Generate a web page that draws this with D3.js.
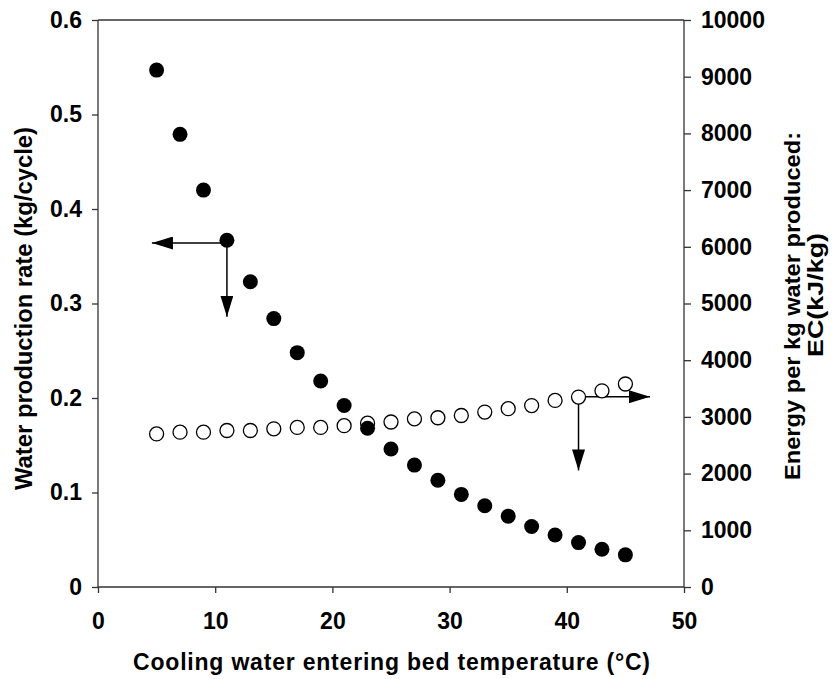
<!DOCTYPE html>
<html>
<head>
<meta charset="utf-8">
<script src="https://cdn.jsdelivr.net/npm/d3@7"></script>
<style>
  body { margin: 0; background: #fff; }
  svg text { font-family: "Liberation Sans", Arial, sans-serif; font-weight: bold; fill: #000; }
</style>
</head>
<body>
<svg width="836" height="679"></svg>
<script>
// cooling water temperature (°C)
const temps = [5, 7, 9, 11, 13, 15, 17, 19, 21, 23, 25, 27, 29, 31, 33, 35, 37, 39, 41, 43, 45];
// water production rate (kg/cycle), left axis - filled dots
const waterRate = [0.547, 0.479, 0.420, 0.367, 0.323, 0.284, 0.248, 0.218, 0.192, 0.168, 0.146,
                   0.129, 0.113, 0.098, 0.086, 0.075, 0.064, 0.055, 0.047, 0.040, 0.034];
// energy per kg water produced (kJ/kg), right axis - open dots
const energy = [2700, 2730, 2730, 2760, 2760, 2790, 2815, 2815, 2845, 2890, 2910,
                2965, 2985, 3025, 3085, 3145, 3200, 3290, 3350, 3460, 3580];

const xTicks = [0, 10, 20, 30, 40, 50];
const leftTicks = [0, 0.1, 0.2, 0.3, 0.4, 0.5, 0.6];
const rightTicks = [0, 1000, 2000, 3000, 4000, 5000, 6000, 7000, 8000, 9000, 10000];

// arrows: start point and tip, in data units
const leftArrows = [ {x0: 11, y0: 0.364, x1: 4.6, y1: 0.364}, {x0: 11, y0: 0.364, x1: 11, y1: 0.286} ];
const rightArrows = [ {x0: 41, y0: 3356, x1: 47.1, y1: 3356}, {x0: 41, y0: 3356, x1: 41, y1: 2056} ];

const margin = {left: 98, right: 152, top: 20, bottom: 92};
const svg = d3.select("svg");
const W = +svg.attr("width"), H = +svg.attr("height");
const iw = W - margin.left - margin.right, ih = H - margin.top - margin.bottom;

const g = svg.append("g").attr("transform", `translate(${margin.left},${margin.top})`);

const x = d3.scaleLinear().domain([0, 50]).range([0, iw]);
const yL = d3.scaleLinear().domain([0, 0.6]).range([ih, 0]);
const yR = d3.scaleLinear().domain([0, 10000]).range([ih, 0]);

// frame line on top
g.append("line").attr("x1", 0).attr("x2", iw).attr("y1", 0).attr("y2", 0)
  .attr("stroke", "#333").attr("stroke-width", 1.3);

const xAxis = g.append("g").attr("transform", `translate(0,${ih})`)
  .call(d3.axisBottom(x).tickValues(xTicks).tickSize(6).tickPadding(20).tickFormat(d3.format("d")));
const leftAxis = g.append("g")
  .call(d3.axisLeft(yL).tickValues(leftTicks).tickSize(6).tickPadding(10)
    .tickFormat(d => d === 0 ? "0" : d3.format(".1f")(d)));
const rightAxis = g.append("g").attr("transform", `translate(${iw},0)`)
  .call(d3.axisRight(yR).tickValues(rightTicks).tickSize(7).tickPadding(10).tickFormat(d3.format("d")));

[xAxis, leftAxis, rightAxis].forEach(a => {
  a.attr("font-size", 23).attr("font-family", null);
  a.selectAll("path, line").attr("stroke", "#333").attr("stroke-width", 1.3);
});
// domain lines without end caps
xAxis.select(".domain").attr("d", `M0,0H${iw}`);
leftAxis.select(".domain").attr("d", `M0,${ih}V0`);
rightAxis.select(".domain").attr("d", `M0,${ih}V0`);

// arrow marker
svg.append("defs").append("marker")
  .attr("id", "head").attr("viewBox", "0 0 21 13").attr("refX", 21).attr("refY", 6.5)
  .attr("markerWidth", 21).attr("markerHeight", 13).attr("markerUnits", "userSpaceOnUse")
  .attr("orient", "auto")
  .append("path").attr("d", "M0,0L21,6.5L0,13Z").attr("fill", "#000");

g.selectAll(".arrL").data(leftArrows).enter().append("line")
  .attr("x1", d => x(d.x0)).attr("y1", d => yL(d.y0))
  .attr("x2", d => x(d.x1)).attr("y2", d => yL(d.y1))
  .attr("stroke", "#000").attr("stroke-width", 1.5).attr("marker-end", "url(#head)");
g.selectAll(".arrR").data(rightArrows).enter().append("line")
  .attr("x1", d => x(d.x0)).attr("y1", d => yR(d.y0))
  .attr("x2", d => x(d.x1)).attr("y2", d => yR(d.y1))
  .attr("stroke", "#000").attr("stroke-width", 1.5).attr("marker-end", "url(#head)");

// energy series (open circles)
g.selectAll(".open").data(temps).enter().append("circle")
  .attr("cx", d => x(d)).attr("cy", (d, i) => yR(energy[i])).attr("r", 7)
  .attr("fill", "#fff").attr("stroke", "#000").attr("stroke-width", 1.3);
// water rate series (filled)
g.selectAll(".filled").data(temps).enter().append("circle")
  .attr("cx", d => x(d)).attr("cy", (d, i) => yL(waterRate[i])).attr("r", 7.5)
  .attr("fill", "#000");

// axis titles
svg.append("text").attr("x", 391.5).attr("y", 670)
  .attr("text-anchor", "middle").style("font-size", "23px")
  .attr("textLength", 517).attr("lengthAdjust", "spacing")
  .text("Cooling water entering bed temperature (°C)");
svg.append("text").attr("transform", "translate(32,308.5) rotate(-90)")
  .attr("text-anchor", "middle").style("font-size", "24px")
  .attr("textLength", 363).attr("lengthAdjust", "spacingAndGlyphs")
  .text("Water production rate (kg/cycle)");
svg.append("text").attr("transform", "translate(800,306) rotate(-90)")
  .attr("text-anchor", "middle").style("font-size", "22px")
  .attr("textLength", 348).attr("lengthAdjust", "spacingAndGlyphs")
  .text("Energy per kg water produced:");
svg.append("text").attr("transform", "translate(823,295) rotate(-90)")
  .attr("text-anchor", "middle").style("font-size", "22px")
  .attr("textLength", 124).attr("lengthAdjust", "spacingAndGlyphs")
  .text("EC(kJ/kg)");
</script>
</body>
</html>
